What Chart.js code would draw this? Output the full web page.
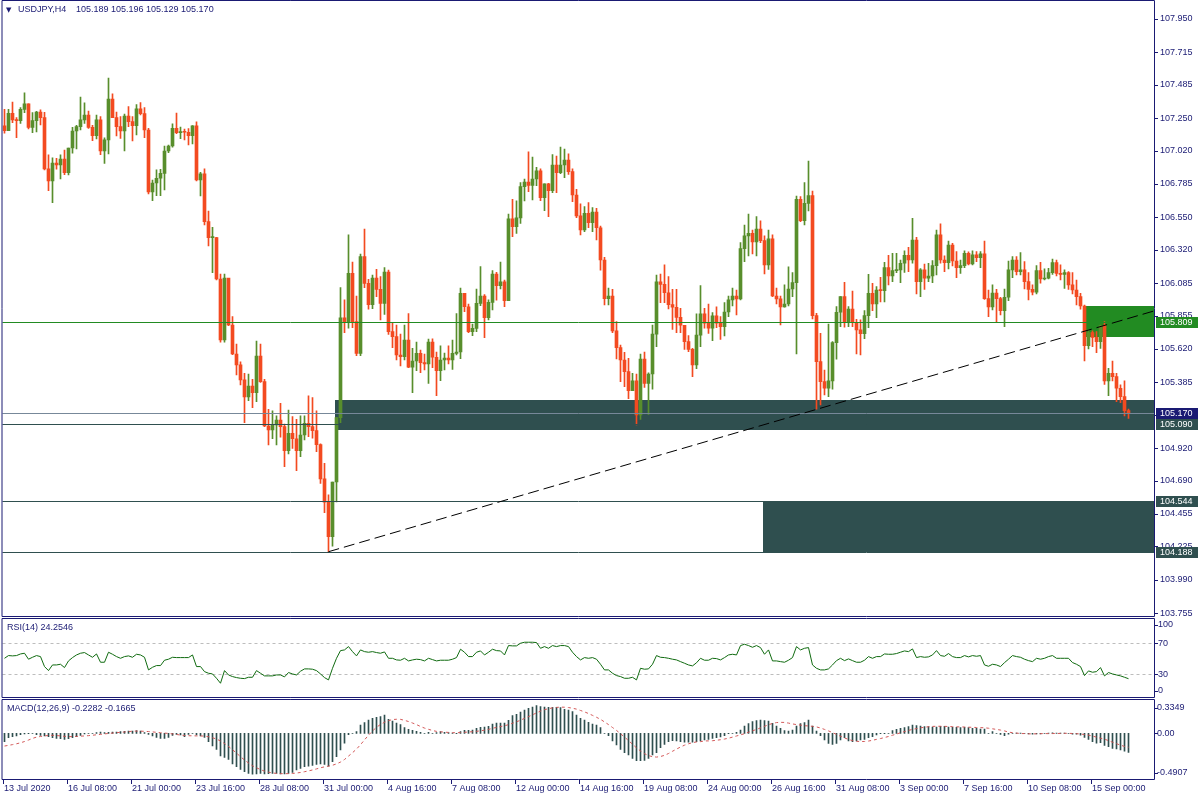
<!DOCTYPE html>
<html lang="en">
<head>
<meta charset="UTF-8">
<title>USDJPY,H4</title>
<script src="https://cdn.jsdelivr.net/npm/chart.js"></script>
<style>
  html, body { margin: 0; padding: 0; background: #ffffff; }
  .panel { position: absolute; left: 0; width: 1200px; }
  #p-main { top: 0; height: 617px; }
  #p-rsi { top: 617px; height: 82px; }
  #p-macd { top: 699px; height: 101px; }
</style>
</head>
<body>
<div class="panel" id="p-main"><canvas id="main"></canvas></div>
<div class="panel" id="p-rsi"><canvas id="rsi"></canvas></div>
<div class="panel" id="p-macd"><canvas id="macd"></canvas></div>
<script>
// USDJPY H4, 13 Jul - 15 Sep 2020 (open of each bar = previous close)
const firstOpen = 107.195;
const closes = [
  107.162,107.284,107.237,107.232,107.312,107.350,107.185,107.232,107.293,107.253,
  106.891,106.806,106.933,106.919,106.961,106.865,107.039,107.159,107.190,107.237,
  107.272,107.185,107.126,107.237,107.018,107.096,107.385,107.253,107.190,107.159,
  107.265,107.225,107.197,107.315,107.282,107.166,106.728,106.792,106.825,106.860,
  107.018,107.053,107.178,107.147,107.152,107.150,107.126,107.195,106.813,106.856,
  106.519,106.406,106.406,106.114,105.683,106.121,105.789,105.584,105.507,105.401,
  105.281,105.358,105.311,105.570,105.389,105.076,105.048,105.083,105.118,105.071,
  104.902,105.024,104.986,104.902,105.012,105.095,105.071,105.043,104.944,104.702,
  104.537,104.294,104.680,105.135,105.839,105.810,106.154,105.813,105.589,106.272,
  106.083,105.933,106.121,106.041,105.942,106.163,105.742,105.707,105.577,105.565,
  105.683,105.492,105.535,105.589,105.523,105.514,105.669,105.561,105.467,105.542,
  105.556,105.542,105.589,105.598,106.013,105.918,105.742,105.765,105.942,105.994,
  105.841,105.949,106.149,106.067,106.093,105.961,106.538,106.483,106.545,106.766,
  106.799,106.775,106.820,106.877,106.688,106.785,106.738,106.919,106.865,106.919,
  106.954,106.872,106.707,106.559,106.460,106.578,106.512,106.587,106.476,106.248,
  105.975,105.994,105.747,105.629,105.542,105.460,105.325,105.394,105.154,105.549,
  105.377,105.443,105.725,106.093,106.076,106.017,105.933,105.914,105.843,105.787,
  105.671,105.617,105.507,105.718,105.867,105.801,105.766,105.853,105.801,105.777,
  105.881,105.966,105.994,105.973,106.328,106.418,106.436,106.375,106.467,106.385,
  106.213,106.397,105.994,105.973,105.916,105.937,106.043,106.088,106.677,106.526,
  106.648,106.703,105.855,105.530,105.389,105.342,105.394,105.664,105.879,105.989,
  105.808,105.902,105.808,105.754,105.728,105.855,106.013,105.937,106.036,106.032,
  106.194,106.135,106.173,106.178,106.225,106.281,106.248,106.389,106.095,106.178,
  106.119,106.135,106.208,106.425,106.248,106.229,106.354,106.241,106.194,106.208,
  106.295,106.220,106.284,106.265,106.291,105.975,105.916,106.015,105.975,105.890,
  105.985,106.178,106.248,106.166,106.178,106.095,106.041,106.020,106.173,106.114,
  106.119,106.159,106.229,106.154,106.147,106.159,106.072,106.036,105.989,105.923,
  105.643,105.735,105.702,105.672,105.785,105.394,105.448,105.424,105.342,105.283,
  105.184,105.170
];
const highs = [
  107.312,107.312,107.364,107.253,107.324,107.428,107.350,107.289,107.298,107.308,
  107.291,106.990,106.969,106.966,106.990,107.025,107.039,107.185,107.199,107.399,
  107.357,107.300,107.199,107.272,107.260,107.110,107.533,107.421,107.293,107.260,
  107.279,107.331,107.260,107.345,107.359,107.324,107.178,106.813,106.884,106.889,
  107.053,107.060,107.209,107.286,107.187,107.173,107.176,107.197,107.223,106.867,
  106.891,106.594,106.479,106.408,106.149,106.149,106.093,105.848,105.655,105.528,
  105.448,105.443,105.405,105.676,105.655,105.405,105.194,105.182,105.147,105.236,
  105.090,105.189,105.142,105.123,105.147,105.147,105.288,105.276,105.182,104.949,
  104.812,104.589,104.680,105.135,106.053,105.966,106.425,106.234,105.994,106.290,
  106.467,106.112,106.142,106.182,106.130,106.194,106.177,105.808,105.789,105.725,
  105.789,105.869,105.624,105.669,105.612,105.584,105.690,105.692,105.598,105.641,
  105.591,105.641,105.683,105.869,106.050,106.013,105.937,105.796,106.043,106.201,
  106.003,105.966,106.173,106.161,106.234,106.107,106.573,106.676,106.665,106.794,
  106.820,107.011,106.975,106.902,106.891,106.785,106.789,106.992,106.982,107.046,
  107.032,106.997,106.891,106.747,106.644,106.625,106.653,106.618,106.613,106.488,
  106.267,106.050,106.041,105.813,105.648,105.596,105.554,105.448,105.443,105.584,
  105.598,105.452,105.789,106.142,106.149,106.213,106.130,106.041,106.041,105.907,
  105.777,105.714,105.624,105.867,106.067,105.907,105.937,105.876,105.918,105.848,
  105.947,105.994,106.050,106.036,106.371,106.495,106.573,106.460,106.554,106.524,
  106.418,106.460,106.425,106.050,105.994,106.072,106.199,106.159,106.700,106.695,
  106.794,106.947,106.735,105.872,105.730,105.471,105.796,105.671,105.919,105.989,
  106.090,105.919,106.029,105.829,105.825,105.890,106.147,106.083,106.060,106.126,
  106.232,106.281,106.295,106.295,106.248,106.312,106.338,106.542,106.408,106.187,
  106.220,106.225,106.244,106.460,106.503,106.277,106.382,106.366,106.307,106.248,
  106.312,106.305,106.312,106.307,106.307,106.382,106.036,106.072,106.041,105.985,
  106.043,106.241,106.272,106.272,106.300,106.237,106.159,106.072,106.208,106.232,
  106.185,106.190,106.255,106.248,106.213,106.178,106.166,106.159,106.107,106.013,
  105.930,105.754,105.747,105.742,105.789,105.813,105.483,105.535,105.448,105.366,
  105.394,105.196
];
const lows = [
  107.143,107.162,107.218,107.112,107.213,107.289,107.173,107.147,107.152,107.202,
  106.884,106.738,106.653,106.889,106.820,106.851,106.848,107.002,107.032,107.166,
  107.213,107.178,107.091,107.103,106.992,106.930,106.997,107.253,107.124,107.107,
  107.018,107.190,107.089,107.131,107.272,107.112,106.714,106.667,106.703,106.703,
  106.743,107.006,107.044,107.140,107.105,107.096,107.060,107.067,106.806,106.700,
  106.495,106.347,106.159,106.107,105.667,105.667,105.784,105.580,105.436,105.365,
  105.099,105.255,105.205,105.248,105.384,105.071,104.942,104.986,104.942,104.996,
  104.789,104.878,104.918,104.761,104.859,104.977,105.001,104.989,104.895,104.671,
  104.464,104.188,104.228,104.539,105.099,105.735,105.766,105.770,105.573,105.573,
  106.053,105.900,105.904,105.989,105.824,105.864,105.723,105.629,105.542,105.500,
  105.542,105.488,105.311,105.467,105.452,105.471,105.377,105.488,105.290,105.396,
  105.471,105.514,105.476,105.577,105.551,105.883,105.735,105.714,105.742,105.926,
  105.700,105.824,105.895,105.965,106.043,105.918,105.961,106.413,106.436,106.507,
  106.665,106.731,106.672,106.773,106.667,106.596,106.554,106.724,106.724,106.858,
  106.830,106.853,106.660,106.547,106.425,106.448,106.476,106.448,106.389,106.177,
  105.930,105.930,105.735,105.549,105.389,105.354,105.269,105.325,105.083,105.123,
  105.349,105.158,105.335,105.636,105.947,105.947,105.902,105.758,105.735,105.735,
  105.617,105.601,105.424,105.481,105.636,105.766,105.730,105.678,105.770,105.688,
  105.711,105.848,105.923,105.860,105.966,106.236,106.276,106.291,106.276,106.371,
  106.149,106.182,105.989,105.937,105.789,105.914,105.923,105.989,105.584,106.519,
  106.495,106.594,105.832,105.194,105.224,105.295,105.283,105.335,105.547,105.777,
  105.773,105.777,105.777,105.584,105.577,105.693,105.770,105.890,105.841,105.952,
  105.952,106.072,106.095,106.159,106.088,106.161,106.166,106.225,106.008,105.989,
  106.041,106.095,106.088,106.142,106.225,106.166,106.185,106.206,106.124,106.154,
  106.194,106.213,106.213,106.237,106.194,105.970,105.848,105.895,105.813,105.860,
  105.777,105.961,106.124,106.142,106.142,106.044,105.966,106.001,106.008,106.084,
  106.107,106.114,106.147,106.135,106.107,106.048,106.041,106.008,105.930,105.900,
  105.535,105.620,105.636,105.594,105.624,105.370,105.290,105.394,105.248,105.241,
  105.147,105.129
];
const rsiValues = [
  50.6,54.1,53.7,54.1,56.2,57.1,49.4,51.9,54.1,52.8,
  39.9,34.7,42.0,42.0,42.9,38.6,47.2,51.5,54.9,57.1,
  58.0,54.9,51.9,56.2,45.5,45.5,58.4,55.8,52.8,50.6,
  52.8,53.7,51.9,55.8,54.9,51.9,35.6,39.0,41.2,41.2,
  48.1,49.4,51.9,51.5,51.5,51.5,51.5,54.9,39.9,39.9,
  33.4,31.3,30.4,24.8,18.4,34.7,29.1,27.0,25.7,24.8,
  24.4,26.1,26.1,34.7,31.3,27.9,27.9,27.9,29.1,29.1,
  26.6,32.2,30.4,29.1,33.9,36.9,36.9,36.5,34.7,30.4,
  25.7,22.7,37.7,50.6,60.5,61.4,65.7,59.2,53.7,61.4,
  59.2,58.4,59.2,58.0,57.1,58.8,50.6,50.6,48.5,48.1,
  50.6,47.2,48.5,49.4,48.9,47.2,50.6,48.9,47.2,48.1,
  48.1,48.1,49.4,51.5,62.3,58.4,52.8,52.8,58.4,60.1,
  54.9,58.4,62.3,60.5,60.1,54.9,67.0,66.6,66.6,70.0,
  71.3,71.3,71.3,70.9,63.5,65.7,63.5,67.0,65.7,67.0,
  67.0,65.7,58.4,52.8,48.5,51.5,50.6,51.5,49.4,42.9,
  35.6,35.6,31.3,28.3,27.0,24.8,24.8,26.1,22.7,37.7,
  36.5,36.9,42.9,54.1,51.9,51.5,50.6,49.4,48.5,46.3,
  44.2,42.0,40.8,44.8,50.6,48.1,48.1,50.6,50.2,48.5,
  51.5,54.9,55.8,54.9,67.0,68.7,67.0,64.8,67.0,64.4,
  55.8,61.4,47.2,47.2,46.3,45.5,48.1,51.5,65.7,61.4,
  63.5,64.4,42.0,37.7,35.6,35.6,36.9,42.0,47.6,50.6,
  47.6,49.8,47.6,45.5,45.5,48.1,52.8,50.6,52.8,52.8,
  56.2,55.8,55.8,56.7,58.4,60.1,59.2,62.7,51.5,52.8,
  51.9,52.4,54.9,60.5,54.1,53.2,56.7,52.8,51.5,51.5,
  54.1,52.4,54.1,53.2,54.1,42.0,40.3,42.9,42.0,39.9,
  45.0,49.4,54.1,52.8,51.9,49.4,47.6,46.3,50.6,49.4,
  50.6,52.8,54.1,50.6,50.6,50.6,50.6,45.1,42.9,39.9,
  28.3,34.3,32.6,33.4,38.6,27.9,32.2,30.4,29.1,27.9,
  26.1,24.2546
];
const macdHist = [
  -0.099,-0.051,-0.039,-0.031,-0.015,-0.007,-0.003,0.001,-0.015,-0.023,
  -0.031,-0.039,-0.051,-0.059,-0.063,-0.071,-0.063,-0.051,-0.039,-0.023,
  -0.007,0.001,0.001,0.009,0.017,0.009,0.013,0.017,0.017,0.021,
  0.025,0.029,0.029,0.033,0.029,0.009,-0.011,-0.031,-0.047,-0.059,
  -0.059,-0.047,-0.023,-0.011,-0.019,-0.039,-0.011,0.001,-0.019,-0.031,
  -0.047,-0.099,-0.152,-0.192,-0.272,-0.288,-0.312,-0.368,-0.401,-0.433,
  -0.461,-0.480,-0.4907,-0.488,-0.480,-0.488,-0.484,-0.480,-0.480,-0.488,
  -0.488,-0.480,-0.468,-0.440,-0.420,-0.401,-0.393,-0.384,-0.372,-0.368,
  -0.372,-0.393,-0.340,-0.280,-0.200,-0.119,-0.015,0.001,0.021,0.101,
  0.129,0.161,0.181,0.193,0.201,0.221,0.169,0.149,0.125,0.107,
  0.069,0.049,0.037,0.025,0.013,0.001,0.013,0.001,0.009,0.021,
  0.013,0.009,0.005,-0.003,0.021,0.037,0.037,0.041,0.061,0.073,
  0.077,0.085,0.113,0.125,0.125,0.125,0.157,0.214,0.229,0.257,
  0.282,0.302,0.318,0.3349,0.322,0.318,0.314,0.314,0.314,0.310,
  0.290,0.282,0.261,0.221,0.181,0.161,0.133,0.113,0.101,0.069,
  0.001,-0.027,-0.091,-0.140,-0.192,-0.232,-0.260,-0.300,-0.328,-0.328,
  -0.324,-0.300,-0.260,-0.232,-0.172,-0.132,-0.099,-0.087,-0.091,-0.099,
  -0.107,-0.107,-0.107,-0.099,-0.091,-0.079,-0.071,-0.059,-0.051,-0.043,
  -0.027,-0.003,0.001,0.013,0.041,0.089,0.117,0.141,0.153,0.161,
  0.153,0.149,0.121,0.089,0.061,0.033,0.029,0.041,0.089,0.117,
  0.129,0.161,0.089,0.029,-0.027,-0.079,-0.120,-0.132,-0.120,-0.079,
  -0.051,-0.091,-0.099,-0.091,-0.079,-0.071,-0.051,-0.039,-0.019,-0.003,
  -0.003,0.001,0.033,0.049,0.061,0.069,0.081,0.101,0.093,0.089,
  0.081,0.081,0.077,0.077,0.085,0.085,0.077,0.073,0.073,0.069,
  0.073,0.069,0.061,0.061,0.053,0.053,0.000,0.021,0.001,-0.011,
  -0.027,-0.010,0.000,0.005,0.005,0.000,-0.005,-0.010,-0.005,-0.005,
  0.000,0.003,0.006,0.005,0.004,0.004,0.000,-0.010,-0.010,-0.020,
  -0.047,-0.071,-0.099,-0.119,-0.111,-0.144,-0.160,-0.180,-0.188,-0.200,
  -0.215,-0.2282
];
const macdSignal = [
  -0.152,-0.144,-0.135,-0.125,-0.113,-0.098,-0.080,-0.060,-0.045,-0.037,
  -0.030,-0.025,-0.023,-0.026,-0.030,-0.035,-0.039,-0.038,-0.036,-0.033,
  -0.031,-0.027,-0.022,-0.017,-0.012,-0.006,-0.001,0.004,0.009,0.013,
  0.017,0.022,0.026,0.028,0.027,0.025,0.022,0.018,0.013,0.008,
  0.004,0.000,-0.006,-0.013,-0.020,-0.025,-0.028,-0.029,-0.030,-0.031,
  -0.032,-0.040,-0.052,-0.068,-0.091,-0.122,-0.157,-0.196,-0.237,-0.280,
  -0.320,-0.356,-0.390,-0.414,-0.435,-0.454,-0.467,-0.476,-0.481,-0.484,
  -0.485,-0.484,-0.482,-0.477,-0.470,-0.461,-0.451,-0.440,-0.427,-0.414,
  -0.402,-0.394,-0.383,-0.367,-0.345,-0.314,-0.273,-0.232,-0.189,-0.136,
  -0.078,-0.022,0.029,0.073,0.108,0.134,0.153,0.167,0.170,0.169,
  0.157,0.143,0.125,0.106,0.083,0.064,0.049,0.035,0.024,0.019,
  0.015,0.012,0.009,0.008,0.010,0.013,0.017,0.020,0.025,0.031,
  0.039,0.048,0.061,0.072,0.082,0.092,0.105,0.122,0.139,0.159,
  0.181,0.202,0.223,0.247,0.268,0.286,0.297,0.307,0.313,0.316,
  0.315,0.311,0.303,0.292,0.276,0.259,0.239,0.217,0.194,0.169,
  0.138,0.106,0.071,0.036,-0.004,-0.044,-0.086,-0.130,-0.174,-0.211,
  -0.244,-0.267,-0.280,-0.285,-0.278,-0.264,-0.242,-0.215,-0.189,-0.164,
  -0.142,-0.125,-0.111,-0.103,-0.099,-0.091,-0.090,-0.088,-0.083,-0.076,
  -0.068,-0.058,-0.045,-0.031,-0.018,-0.003,0.014,0.031,0.048,0.066,
  0.085,0.104,0.120,0.130,0.133,0.132,0.124,0.114,0.106,0.100,
  0.092,0.090,0.085,0.078,0.065,0.048,0.030,0.010,-0.012,-0.034,
  -0.055,-0.072,-0.087,-0.095,-0.098,-0.097,-0.092,-0.083,-0.072,-0.062,
  -0.050,-0.037,-0.022,-0.008,0.008,0.022,0.036,0.048,0.058,0.067,
  0.074,0.080,0.084,0.086,0.086,0.085,0.083,0.081,0.079,0.078,
  0.077,0.075,0.073,0.071,0.069,0.068,0.062,0.055,0.048,0.040,
  0.030,0.016,0.009,0.004,-0.002,-0.002,-0.005,-0.006,-0.005,-0.003,
  -0.002,-0.003,-0.002,-0.001,0.000,0.001,0.001,-0.001,-0.003,-0.008,
  -0.013,-0.021,-0.032,-0.045,-0.058,-0.070,-0.087,-0.106,-0.124,-0.141,
  -0.157,-0.1665
];

// axis ticks
const priceTicks = [107.950,107.715,107.485,107.250,107.020,106.785,106.550,106.320,106.085,105.855,
                    105.620,105.385,105.150,104.920,104.690,104.455,104.225,103.990,103.755];
const rsiTicks = [100, 70, 30, 0];
const rsiLevels = [70, 30];
const macdTicks = [0.3349, 0.00, -0.4907];
const dateTicks = [0,16,32,48,64,80,96,112,128,144,160,176,192,208,224,240,256,272];
const dateLabels = ['13 Jul 2020','16 Jul 08:00','21 Jul 00:00','23 Jul 16:00','28 Jul 08:00','31 Jul 00:00',
                    '4 Aug 16:00','7 Aug 08:00','12 Aug 00:00','14 Aug 16:00','19 Aug 08:00','24 Aug 00:00',
                    '26 Aug 16:00','31 Aug 08:00','3 Sep 00:00','7 Sep 16:00','10 Sep 08:00','15 Sep 00:00'];

// chart objects
const levelPrices = [105.809, 105.170, 105.090, 104.544, 104.188];
const rectStartBar = [82.6, 189.6, 269.5];
const rectTop = [105.259, 104.544, 105.923];
const rectBottom = [105.048, 104.188, 105.706];
const trendBars = [81, 270];
const trendPrices = [104.188, 105.745];

// styles
const UP = '#588E2C', DOWN = '#F34A20';
const NAVY = '#1A1A73';
const SLATE = '#2F4F4F';
const FOREST = '#228B22';
const FONT = "9px 'Liberation Sans', Arial, sans-serif";
const levelColors = [FOREST, '#778899', SLATE, SLATE, SLATE];
const levelBoxColors = [FOREST, NAVY, SLATE, SLATE, SLATE];
const rectColors = [SLATE, SLATE, FOREST];

const shiftBars = 6;
const slots = Array.from({length: closes.length + shiftBars}, (_, i) => i);
const opens = closes.map((c, i) => i === 0 ? firstOpen : closes[i - 1]);
const candleColors = closes.map((c, i) => c >= opens[i] ? UP : DOWN);

function drawBorder(ctx, a, top, bottom) {
    ctx.save();
    ctx.strokeStyle = NAVY;
    ctx.lineWidth = 1;
    ctx.beginPath();
    ctx.moveTo(2, top); ctx.lineTo(a.right, top);
    ctx.moveTo(2, bottom); ctx.lineTo(a.right, bottom);
    ctx.moveTo(2, top); ctx.lineTo(2, bottom);
    ctx.moveTo(a.right, top); ctx.lineTo(a.right, bottom);
    ctx.stroke();
    ctx.restore();
}

function axisLabel(ctx, a, text, py, tx) {
    ctx.fillStyle = NAVY;
    ctx.fillRect(a.right + 0.5, Math.round(py), 3, 1);
    ctx.fillText(text, tx, py);
}

const commonOptions = (padding) => ({
    animation: false,
    responsive: true,
    maintainAspectRatio: false,
    devicePixelRatio: 1,
    events: [],
    layout: { padding: padding },
    plugins: { legend: { display: false }, tooltip: { enabled: false } }
});

// ---------- main price panel ----------
const mainPlugin = {
    id: 'mtMain',
    beforeDatasetsDraw(chart) {
        const { ctx, chartArea: a, scales: { x, y } } = chart;
        ctx.save();
        ctx.beginPath();
        ctx.rect(a.left, a.top, a.right - a.left, a.bottom - a.top);
        ctx.clip();
        rectStartBar.forEach((b, k) => {
            const x1 = Math.round(x.getPixelForValue(b));
            const y1 = Math.round(y.getPixelForValue(rectTop[k]));
            const y2 = Math.round(y.getPixelForValue(rectBottom[k]));
            ctx.fillStyle = rectColors[k];
            ctx.fillRect(x1, y1, a.right - x1, y2 - y1);
        });
        ctx.restore();
    },
    afterDatasetsDraw(chart) {
        const { ctx, chartArea: a, scales: { x, y } } = chart;
        ctx.save();
        ctx.lineWidth = 1;
        levelPrices.forEach((p, k) => {
            const py = Math.round(y.getPixelForValue(p)) + 0.5;
            ctx.strokeStyle = levelColors[k];
            ctx.beginPath();
            ctx.moveTo(a.left, py);
            ctx.lineTo(a.right, py);
            ctx.stroke();
        });
        // trend line as a ray to the right edge
        const x1 = x.getPixelForValue(trendBars[0]), y1 = y.getPixelForValue(trendPrices[0]);
        const x2 = x.getPixelForValue(trendBars[1]), y2 = y.getPixelForValue(trendPrices[1]);
        const yr = y1 + (y2 - y1) / (x2 - x1) * (a.right - x1);
        ctx.strokeStyle = '#000000';
        ctx.setLineDash([11, 5]);
        ctx.beginPath();
        ctx.moveTo(x1, y1);
        ctx.lineTo(a.right, yr);
        ctx.stroke();
        ctx.restore();
    },
    afterDraw(chart) {
        const { ctx, chartArea: a, scales: { y } } = chart;
        drawBorder(ctx, a, 0.5, 616.5);
        ctx.save();
        ctx.font = FONT;
        ctx.textBaseline = 'middle';
        ctx.textAlign = 'left';
        priceTicks.forEach(v => axisLabel(ctx, a, v.toFixed(3), y.getPixelForValue(v), 1160));
        levelPrices.forEach((p, k) => {
            const py = Math.round(y.getPixelForValue(p));
            ctx.fillStyle = levelBoxColors[k];
            ctx.fillRect(1156, py - 5, 42, 11);
            ctx.fillStyle = '#ffffff';
            ctx.fillText(p.toFixed(3), 1160, py + 0.5);
        });
        ctx.fillStyle = NAVY;
        ctx.font = "7px 'DejaVu Sans', sans-serif";
        ctx.fillText('\u25BC', 6, 10);
        ctx.font = FONT;
        ctx.fillText('USDJPY,H4', 18, 10);
        ctx.fillText('105.189 105.196 105.129 105.170', 76, 10);
        ctx.restore();
    }
};

new Chart(document.getElementById('main'), {
    type: 'bar',
    data: {
        labels: slots,
        datasets: [
            {
                data: closes.map((c, i) => [opens[i], c]),
                backgroundColor: candleColors,
                barThickness: 3,
                minBarLength: 1,
                grouped: false
            },
            {
                data: highs.map((h, i) => [lows[i], h]),
                backgroundColor: candleColors,
                barThickness: 1,
                grouped: false
            }
        ]
    },
    options: Object.assign(commonOptions({ left: 2.5, right: 45.5, top: 0, bottom: 1 }), {
        scales: {
            x: { type: 'category', offset: true, display: false },
            y: { display: false, min: 103.734, max: 108.084 }
        }
    }),
    plugins: [mainPlugin]
});

// ---------- RSI panel ----------
const rsiPlugin = {
    id: 'mtRsi',
    beforeDatasetsDraw(chart) {
        const { ctx, chartArea: a, scales: { y } } = chart;
        ctx.save();
        ctx.strokeStyle = '#BDBDBD';
        ctx.lineWidth = 1;
        ctx.setLineDash([3, 3]);
        rsiLevels.forEach(v => {
            const py = Math.round(y.getPixelForValue(v)) + 0.5;
            ctx.beginPath();
            ctx.moveTo(a.left, py);
            ctx.lineTo(a.right, py);
            ctx.stroke();
        });
        ctx.restore();
    },
    afterDraw(chart) {
        const { ctx, chartArea: a, scales: { y } } = chart;
        drawBorder(ctx, a, 1.5, 80.5);
        ctx.save();
        ctx.font = FONT;
        ctx.textBaseline = 'middle';
        ctx.textAlign = 'left';
        rsiTicks.forEach(v => {
            const py = Math.min(Math.max(y.getPixelForValue(v), a.top + 5), a.bottom - 6.5);
            axisLabel(ctx, a, String(v), py, 1158);
        });
        ctx.fillStyle = NAVY;
        ctx.fillText('RSI(14) 24.2546', 7, 11);
        ctx.restore();
    }
};

new Chart(document.getElementById('rsi'), {
    type: 'line',
    data: {
        labels: slots,
        datasets: [{
            data: rsiValues,
            borderColor: '#0F6A0F',
            borderWidth: 1,
            pointRadius: 0,
            tension: 0,
            fill: false
        }]
    },
    options: Object.assign(commonOptions({ left: 2.5, right: 45.5, top: 3, bottom: 1.5 }), {
        scales: {
            x: { type: 'category', offset: true, display: false },
            y: { display: false, min: 0, max: 100 }
        }
    }),
    plugins: [rsiPlugin]
});

// ---------- MACD panel + time axis ----------
const macdPlugin = {
    id: 'mtMacd',
    afterDraw(chart) {
        const { ctx, chartArea: a, scales: { x, y } } = chart;
        drawBorder(ctx, a, 0.5, 80.5);
        ctx.save();
        ctx.font = FONT;
        ctx.textBaseline = 'middle';
        ctx.textAlign = 'left';
        macdTicks.forEach(v => {
            const py = Math.min(Math.max(y.getPixelForValue(v), a.top + 7.5), a.bottom - 6.3);
            axisLabel(ctx, a, v === 0 ? '0.00' : v.toFixed(4), py, 1157);
        });
        ctx.fillStyle = NAVY;
        ctx.fillText('MACD(12,26,9) -0.2282 -0.1665', 7, 10);
        dateTicks.forEach((b, k) => {
            const px = Math.round(x.getPixelForValue(b) - 2);
            ctx.fillRect(px, 81, 1, 4);
            ctx.fillText(dateLabels[k], px + 1, 90);
        });
        ctx.restore();
    }
};

new Chart(document.getElementById('macd'), {
    type: 'bar',
    data: {
        labels: slots,
        datasets: [
            {
                type: 'line',
                data: macdSignal,
                borderColor: '#D35858',
                borderWidth: 1,
                borderDash: [3, 3],
                pointRadius: 0,
                tension: 0,
                fill: false
            },
            {
                type: 'bar',
                data: macdHist,
                backgroundColor: SLATE,
                barThickness: 1,
                grouped: false
            }
        ]
    },
    options: Object.assign(commonOptions({ left: 2.5, right: 45.5, top: 1, bottom: 21 }), {
        scales: {
            x: { type: 'category', offset: true, display: false },
            y: { display: false, min: -0.5486, max: 0.4018 }
        }
    }),
    plugins: [macdPlugin]
});
</script>
</body>
</html>
